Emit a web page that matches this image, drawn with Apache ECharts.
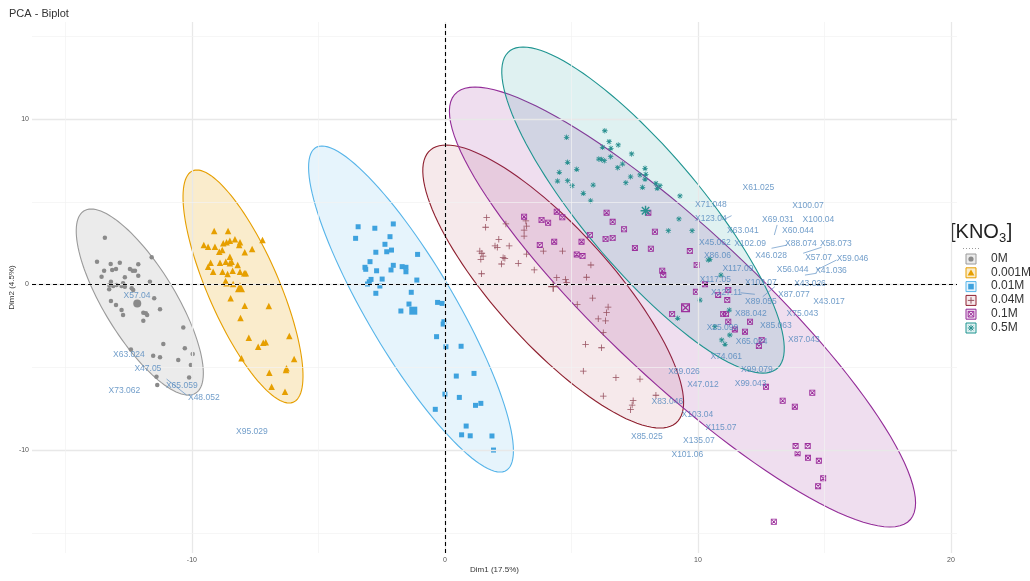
<!DOCTYPE html>
<html>
<head>
<meta charset="utf-8">
<script src="https://cdn.jsdelivr.net/npm/echarts@6/dist/echarts.min.js"></script>
<style>html,body{margin:0;padding:0;background:#fff}#c{width:1030px;height:581px}</style>
</head>
<body>
<div id="c"></div>
<script>
// ---------------- DATA ----------------
const groups = ['0M', '0.001M', '0.01M', '0.04M', '0.1M', '0.5M'];

const pts0M = [[-13.44,2.83],[-13.75,1.38],[-13.21,1.24],[-12.85,1.32],[-12.12,1.22],[-11.59,1.64],[-13.47,0.83],[-13.15,0.88],[-13.00,0.94],[-12.45,0.94],[-12.34,0.83],[-12.25,0.83],[-13.57,0.47],[-12.65,0.44],[-12.12,0.53],[-13.20,0.17],[-13.27,-0.03],[-13.11,-0.09],[-12.98,-0.03],[-12.78,-0.09],[-12.72,0.07],[-12.65,-0.13],[-13.27,-0.29],[-12.38,-0.23],[-12.32,-0.33],[-11.66,0.17],[-11.49,-0.83],[-13.20,-1.00],[-13.00,-1.24],[-12.78,-1.54],[-12.72,-1.84],[-11.92,-1.70],[-11.82,-1.74],[-11.77,-1.84],[-11.26,-1.50],[-11.92,-2.19],[-10.34,-2.59],[-11.13,-3.60],[-10.28,-3.85],[-9.97,-4.20],[-11.53,-4.30],[-11.26,-4.40],[-10.54,-4.56],[-10.04,-4.86],[-11.40,-5.57],[-10.11,-5.61],[-11.37,-6.07],[-12.41,-3.92]];

const pts0001M = [[-9.12,3.23],[-8.57,3.23],[-9.53,2.39],[-9.36,2.28],[-9.09,2.28],[-8.76,2.49],[-8.63,2.55],[-8.50,2.65],[-8.30,2.73],[-8.10,2.55],[-8.13,2.39],[-7.21,2.69],[-8.92,1.98],[-8.80,2.08],[-8.50,1.68],[-7.91,1.95],[-7.62,2.14],[-9.26,1.32],[-8.89,1.32],[-8.66,1.38],[-8.50,1.28],[-8.43,1.38],[-8.19,1.18],[-9.36,1.08],[-9.16,0.77],[-8.79,0.77],[-8.59,0.63],[-8.39,0.83],[-8.10,0.77],[-7.93,0.68],[-7.87,0.68],[-8.67,0.21],[-8.63,0.07],[-8.37,0.03],[-8.47,-0.83],[-7.91,-1.28],[-6.96,-1.30],[-8.08,-2.02],[-7.75,-3.21],[-7.38,-3.76],[-7.18,-3.52],[-7.08,-3.49],[-6.15,-3.11],[-8.04,-4.46],[-5.96,-4.50],[-6.94,-5.33],[-6.28,-5.17],[-6.26,-5.06],[-6.85,-6.18],[-6.32,-6.48]];

const pts001M = [[-3.43,3.49],[-2.77,3.40],[-2.04,3.66],[-3.53,2.79],[-2.17,2.89],[-2.37,2.43],[-2.73,1.95],[-2.30,1.98],[-2.11,2.08],[-1.08,1.82],[-2.96,1.38],[-3.16,1.04],[-3.13,0.92],[-2.70,0.83],[-2.13,0.88],[-2.04,1.16],[-1.69,1.08],[-1.54,1.04],[-1.54,0.77],[-2.92,0.31],[-2.99,0.17],[-3.06,0.03],[-2.48,0.33],[-2.57,-0.09],[-1.11,0.27],[-2.73,-0.53],[-1.33,-0.47],[-1.42,-1.18],[-1.74,-1.60],[-0.29,-1.08],[-0.11,-1.14],[-0.04,-2.25],[-0.07,-2.39],[-0.33,-3.15],[0.64,-3.73],[0.04,-3.76],[1.15,-5.37],[0.45,-5.53],[0.57,-6.82],[1.21,-7.30],[1.42,-7.18],[0.00,-6.62],[-0.38,-7.54],[0.84,-8.55],[0.66,-9.08],[1.00,-9.14],[1.86,-9.15],[1.92,-10.00]];

const pts004M = [[1.65,4.04],[1.61,3.46],[2.41,3.66],[3.20,3.84],[3.23,3.53],[3.13,3.29],[3.13,2.93],[2.13,2.73],[1.98,2.33],[2.07,2.25],[2.54,2.33],[1.38,2.02],[1.46,1.89],[1.51,1.72],[1.42,1.52],[2.30,1.62],[2.37,1.58],[2.24,1.24],[2.90,1.28],[3.23,1.84],[3.53,0.88],[1.45,0.65],[3.89,2.02],[4.65,2.02],[5.77,1.18],[4.42,0.41],[4.77,0.31],[4.81,0.11],[5.60,0.44],[5.23,-1.20],[5.84,-0.82],[6.45,-1.36],[6.39,-1.70],[6.35,-2.19],[6.06,-2.07],[6.26,-2.91],[5.56,-3.61],[6.19,-3.82],[5.47,-5.23],[6.76,-5.63],[7.71,-5.71],[6.26,-6.74],[8.34,-6.69],[7.44,-7.02],[7.40,-7.28],[7.34,-7.56]];

const pts01M = [[3.13,4.10],[3.82,3.90],[4.08,3.73],[4.42,4.40],[4.64,4.06],[6.39,4.34],[6.63,3.79],[5.73,2.99],[6.35,2.75],[6.63,2.81],[7.08,3.34],[8.30,3.19],[3.75,2.39],[4.32,2.59],[5.40,2.59],[5.21,1.82],[5.44,1.72],[7.51,2.21],[8.14,2.16],[9.68,2.02],[9.95,1.18],[8.59,0.83],[8.63,0.57],[10.28,0.01],[9.92,-0.44],[8.98,-1.78],[8.04,4.34],[10.80,-0.63],[11.20,-0.33],[11.16,-0.94],[11.00,-1.78],[11.11,-1.78],[12.06,-2.25],[11.20,-2.25],[11.46,-2.71],[11.86,-2.85],[12.52,-3.35],[12.41,-3.72],[12.69,-6.18],[13.35,-7.02],[13.83,-7.38],[14.52,-6.54],[13.86,-9.76],[14.34,-9.76],[13.94,-10.20],[14.35,-10.47],[14.78,-10.65],[14.95,-11.71],[14.75,-12.18],[13.00,-14.33]];

const pts05M = [[6.32,9.29],[4.81,8.89],[6.49,8.63],[6.85,8.43],[6.23,8.29],[6.56,8.23],[6.55,7.72],[6.08,7.58],[6.19,7.56],[6.30,7.48],[7.38,7.89],[4.85,7.38],[5.21,6.96],[6.83,7.06],[7.02,7.28],[4.52,6.78],[4.85,6.27],[5.03,5.97],[4.45,6.25],[5.86,6.01],[5.47,5.51],[5.76,5.06],[7.15,6.15],[7.34,6.51],[7.71,6.62],[7.94,6.66],[7.91,6.36],[7.81,5.87],[8.34,6.11],[8.50,5.97],[8.39,5.81],[9.29,5.35],[9.25,3.96],[9.77,3.25],[8.83,3.25],[7.91,7.02],[10.47,1.52],[10.41,1.48],[10.91,0.57],[10.08,-0.94],[9.20,-2.04],[11.24,-1.54],[10.67,-2.55],[11.26,-3.05],[10.94,-3.35],[11.07,-3.61]];

const groupPoints = [pts0M, pts0001M, pts001M, pts004M, pts01M, pts05M];
const groupMeans = [[-12.16,-1.14],[-8.10,-0.17],[-1.25,-1.58],[4.28,-0.13],[9.51,-1.40],[7.93,4.46]];

// ellipse: centre x, centre y, horizontal half-chord, top-point offset x, top-point offset y
const ellipses = [
  [-12.06,-1.06,1.62,-1.92,5.62],
  [-7.98,-0.12,1.52,-1.82,7.04],
  [-1.34,-1.48,2.0,-3.52,9.85],
  [4.28,-0.12,2.96,-4.22,8.55],
  [9.39,-1.36,4.20,-8.20,13.29],
  [7.83,4.50,2.95,-4.74,9.85]
];

const varNames = ['X57.04','X63.024','X47.05','X73.062','X65.059','X48.052','X95.029','X61.025','X71.048','X100.07','X123.04','X69.031','X100.04','X63.041','X60.044','X45.062','X102.09','X88.074','X58.073','X86.06','X46.028','X57.07','X59.046','X117.09','X56.044','X41.036','X117.05','X103.07','X43.026','X127.11','X87.077','X43.017','X89.055','X88.042','X75.043','X85.063','X25.099','X87.043','X65.024','X74.061','X99.079','X89.026','X47.012','X99.043','X83.046','X103.04','X115.07','X85.025','X135.07','X101.06'];
const varX = [-12.17,-12.49,-11.74,-12.67,-10.40,-9.53,-7.63,12.39,10.51,14.35,10.51,13.16,14.76,11.78,13.95,10.67,12.06,14.07,15.45,10.77,12.89,14.77,16.11,11.58,13.74,15.26,10.69,12.49,14.43,11.13,13.79,15.18,12.49,12.09,14.13,13.08,10.97,14.19,12.12,11.12,12.33,9.45,10.20,12.08,8.79,9.98,10.91,7.98,10.04,9.58];
const varY = [-0.68,-4.26,-5.11,-6.42,-6.11,-6.82,-8.89,5.87,4.85,4.76,3.96,3.94,3.94,3.25,3.23,2.53,2.49,2.49,2.45,1.72,1.72,1.64,1.54,0.98,0.92,0.82,0.27,0.11,0.03,-0.50,-0.63,-1.04,-1.04,-1.78,-1.78,-2.51,-2.61,-3.31,-3.46,-4.36,-5.17,-5.27,-6.07,-5.99,-7.10,-7.89,-8.65,-9.20,-9.46,-10.26];

// repel segments [x1,y1,x2,y2]
const segments = [
  [-11.0,-5.71,-10.21,-6.68],
  [11.07,3.96,11.33,4.16],
  [13.13,3.60,13.02,2.99],
  [13.51,2.38,12.91,2.19],
  [14.89,2.25,14.16,1.89],
  [15.48,1.48,14.69,0.88],
  [14.69,0.68,14.23,0.57],
  [11.69,-0.50,12.25,-0.59],
  [12.56,-0.74,13.04,-0.13]
];

const xTicks = [-10, 0, 10, 20];
const yTicks = [-10, 0, 10];
const xMinor = [-15, -5, 5, 15];
const yMinor = [-15, -5, 5, 15];

// ---------------- STYLE ----------------
const strokeCols = ['#9a9a9a', '#E69F00', '#56B4E9', '#8E1F2E', '#932C98', '#1E9490'];
const fillCols = ['rgba(153,153,153,0.2)', 'rgba(230,159,0,0.2)', 'rgba(86,180,233,0.15)', 'rgba(165,42,62,0.1)', 'rgba(153,51,153,0.16)', 'rgba(27,158,158,0.14)'];
const pointCols = ['#8a8a8a', '#E69F00', '#3EA2DE', '#985260', '#9C2F9C', '#2A9090'];
const PLUS = 'path://M4.4,0H5.6V4.4H10V5.6H5.6V10H4.4V5.6H0V4.4H4.4Z';
const ASTER = 'path://M4.3,0H5.7V4.3H10V5.7H5.7V10H4.3V5.7H0V4.3H4.3Z M0.8,1.8L1.8,0.8L9.2,8.2L8.2,9.2Z M8.2,0.8L9.2,1.8L1.8,9.2L0.8,8.2Z';
const SQX = 'path://M0,0H10V10H0Z M1.4,1.4V8.6H8.6V1.4Z M1.2,2.2L2.2,1.2L8.8,7.8L7.8,8.8Z M7.8,1.2L8.8,2.2L2.2,8.8L1.2,7.8Z';
const symbols = ['circle', 'triangle', 'rect', PLUS, SQX, ASTER];
const sizes = [4.5, 6.5, 5, 6.5, 6, 5.5];
const meanSizes = [8, 10, 8, 10, 9, 10];
const labelCol = '#4F86BD';

const chart = echarts.init(document.getElementById('c'), null, {renderer: 'canvas'});

const series = [];

// grid lines (drawn as markLines so they can sit on round values)
const gridLines = [];
xTicks.forEach(v => gridLines.push({xAxis: v, lineStyle: {color: '#e8e8e8', width: 1.3, type: 'solid'}}));
yTicks.forEach(v => gridLines.push({yAxis: v, lineStyle: {color: '#e8e8e8', width: 1.3, type: 'solid'}}));
xMinor.forEach(v => gridLines.push({xAxis: v, lineStyle: {color: '#f2f2f2', width: 0.7, type: 'solid'}}));
yMinor.forEach(v => gridLines.push({yAxis: v, lineStyle: {color: '#f2f2f2', width: 0.7, type: 'solid'}}));
series.push({
  type: 'line', data: [], z: 0, silent: true,
  markLine: {silent: true, symbol: ['none', 'none'], label: {show: false}, animation: false, data: gridLines}
});

// ellipses
series.push({
  type: 'custom', z: 1, silent: true,
  data: ellipses,
  encode: {x: 0, y: 1},
  renderItem: function (params, api) {
    const cx = api.value(0), cy = api.value(1), hx = api.value(2), tx = api.value(3), ty = api.value(4);
    const pts = [];
    const N = 120;
    for (let k = 0; k < N; k++) {
      const t = 2 * Math.PI * k / N;
      pts.push(api.coord([cx + Math.cos(t) * hx + Math.sin(t) * tx, cy + Math.sin(t) * ty]));
    }
    const i = params.dataIndex;
    return {type: 'polygon', shape: {points: pts}, style: {fill: fillCols[i], stroke: strokeCols[i], lineWidth: 1.1}};
  }
});

// zero dashed lines
series.push({
  type: 'line', data: [], z: 4, silent: true,
  markLine: {silent: true, symbol: ['none', 'none'], label: {show: false}, animation: false,
    lineStyle: {color: '#000', width: 1.1, type: [4, 3]},
    data: [{xAxis: 0}, {yAxis: 0}]}
});

// points
groups.forEach((g, i) => {
  const d = groupPoints[i].map(p => ({value: p}));
  d.push({value: groupMeans[i], symbolSize: meanSizes[i]});
  series.push({
    type: 'scatter', name: g, z: 3, data: d,
    symbol: symbols[i], symbolSize: sizes[i],
    itemStyle: {color: pointCols[i], opacity: 1},
    animation: false
  });
});

// segments
series.push({
  type: 'lines', coordinateSystem: 'cartesian2d', z: 5, silent: true,
  data: segments.map(s => ({coords: [[s[0], s[1]], [s[2], s[3]]]})),
  lineStyle: {color: labelCol, width: 0.7, opacity: 0.9}
});

// variable labels
series.push({
  type: 'scatter', z: 6, silent: true,
  data: varNames.map((n, i) => [varX[i], varY[i], n]),
  symbolSize: 1,
  itemStyle: {color: 'rgba(0,0,0,0)'},
  label: {show: true, position: 'inside', formatter: p => p.data[2],
    color: labelCol, fontSize: 8.5, fontFamily: "'Liberation Sans', Arial"},
  animation: false
});

// legend (built from groups)
const ctx = document.createElement('canvas').getContext('2d');
const titleFont = "20px 'Liberation Sans', Arial";
ctx.font = titleFont;
const wKNO = ctx.measureText('[KNO').width;
ctx.font = "13px 'Liberation Sans', Arial";
const w3 = ctx.measureText('3').width;
const lx0 = 950, ly0 = 222;
const graphics = [
  {type: 'text', x: lx0, y: ly0, style: {text: '[KNO', font: titleFont, fill: '#222'}},
  {type: 'text', x: lx0 + wKNO, y: ly0 + 10, style: {text: '3', font: "13px 'Liberation Sans', Arial", fill: '#222'}},
  {type: 'text', x: lx0 + wKNO + w3 + 0.5, y: ly0, style: {text: ']', font: titleFont, fill: '#222'}},
  {type: 'line', shape: {x1: 963, y1: 248.5, x2: 981, y2: 248.5}, style: {stroke: '#9a9a9a', lineWidth: 1, lineDash: [1, 2]}}
];
const boxX = 966, boxY0 = 254, step = 13.8, bs = 10;
groups.forEach((g, i) => {
  const y = boxY0 + i * step;
  const cxm = boxX + bs / 2, cym = y + bs / 2;
  const col = pointCols[i];
  graphics.push({type: 'rect', shape: {x: boxX, y: y, width: bs, height: bs},
    style: {fill: fillCols[i], stroke: strokeCols[i], lineWidth: 1}});
  const ls = {stroke: col, lineWidth: 1};
  if (i === 0) graphics.push({type: 'circle', shape: {cx: cxm, cy: cym, r: 2.6}, style: {fill: col}});
  else if (i === 1) graphics.push({type: 'polygon', shape: {points: [[cxm, cym - 3.3], [cxm + 3.4, cym + 2.6], [cxm - 3.4, cym + 2.6]]}, style: {fill: col}});
  else if (i === 2) graphics.push({type: 'rect', shape: {x: cxm - 2.8, y: cym - 2.8, width: 5.6, height: 5.6}, style: {fill: col}});
  else {
    const r = 3.2;
    if (i === 3 || i === 5) {
      graphics.push({type: 'line', shape: {x1: cxm - r, y1: cym, x2: cxm + r, y2: cym}, style: ls});
      graphics.push({type: 'line', shape: {x1: cxm, y1: cym - r, x2: cxm, y2: cym + r}, style: ls});
    }
    if (i === 4 || i === 5) {
      const q = i === 4 ? 2.6 : 2.3;
      graphics.push({type: 'line', shape: {x1: cxm - q, y1: cym - q, x2: cxm + q, y2: cym + q}, style: ls});
      graphics.push({type: 'line', shape: {x1: cxm - q, y1: cym + q, x2: cxm + q, y2: cym - q}, style: ls});
    }
    if (i === 4) graphics.push({type: 'rect', shape: {x: cxm - 2.8, y: cym - 2.8, width: 5.6, height: 5.6}, style: {fill: 'none', stroke: col, lineWidth: 1}});
  }
  graphics.push({type: 'text', x: 991, y: y - 1.5, style: {text: g, font: "12px 'Liberation Sans', Arial", fill: '#333'}});
});

chart.setOption({
  animation: false,
  backgroundColor: '#fff',
  title: {text: 'PCA - Biplot', left: 4, top: 3, textStyle: {fontSize: 11, fontWeight: 'normal', color: '#333', fontFamily: "'Liberation Sans', Arial"}},
  grid: {left: 32, right: 73, top: 22, bottom: 28, containLabel: false, outerBoundsMode: 'none'},
  xAxis: {
    type: 'value', min: -16.32, max: 20.24,
    name: 'Dim1 (17.5%)', nameLocation: 'middle', nameGap: 13, nameMoveOverlap: false,
    nameTextStyle: {fontSize: 8, color: '#333', fontFamily: "'Liberation Sans', Arial"},
    axisLine: {show: false},
    axisTick: {show: true, length: 2, customValues: xTicks, lineStyle: {color: '#444'}},
    axisLabel: {customValues: xTicks, fontSize: 7, color: '#555', margin: 4},
    splitLine: {show: false}
  },
  yAxis: {
    type: 'value', min: -16.22, max: 15.86,
    name: 'Dim2 (4.5%)', nameLocation: 'middle', nameGap: 16, nameMoveOverlap: false,
    nameTextStyle: {fontSize: 8, color: '#333', fontFamily: "'Liberation Sans', Arial"},
    axisLine: {show: false},
    axisTick: {show: true, length: 2, customValues: yTicks, lineStyle: {color: '#444'}},
    axisLabel: {customValues: yTicks, fontSize: 7, color: '#555', margin: 3},
    splitLine: {show: false}
  },
  graphic: graphics,
  series: series
});
</script>
</body>
</html>
